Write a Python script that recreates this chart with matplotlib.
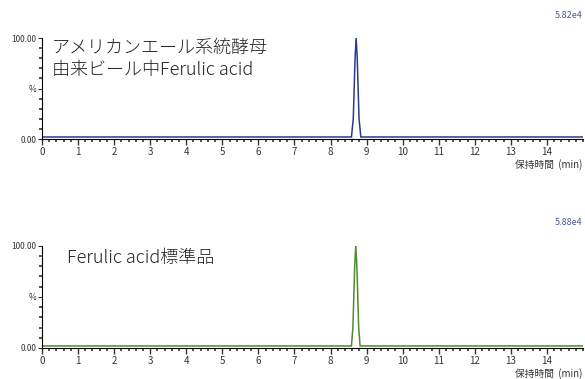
import matplotlib
matplotlib.use('Agg')
import matplotlib.pyplot as plt
from matplotlib.ticker import MultipleLocator, FixedLocator

plt.rcParams['font.family'] = ['Noto Sans CJK JP', 'DejaVu Sans']

# retention time (min) / relative intensity (%)
beer_time = [0.0, 8.58, 8.63, 8.68, 8.71, 8.74, 8.79, 8.84, 15.0]
beer_pct = [2.0, 2.0, 20.0, 80.0, 100.0, 80.0, 20.0, 2.0, 2.0]
std_time = [0.0, 8.58, 8.62, 8.67, 8.70, 8.73, 8.78, 8.82, 15.0]
std_pct = [2.0, 2.0, 20.0, 80.0, 100.0, 80.0, 20.0, 2.0, 2.0]

titles = ['アメリカンエール系統酵母\n由来ビール中Ferulic acid', 'Ferulic acid標準品']
scales = ['5.82e4', '5.88e4']
line_colors = ['#2b3a8c', '#4f8a2e']
x_label = '保持時間  (min)'
y_ticks = [0, 50, 100]
y_ticklabels = ['0.00', '%', '100.00']

fig = plt.figure(figsize=(5.85, 3.79), dpi=100)
ax1 = fig.add_axes([0.0718, 0.6332, 0.9248, 0.2665])
ax2 = fig.add_axes([0.0718, 0.0818, 0.9248, 0.2699])

series = [(beer_time, beer_pct), (std_time, std_pct)]
for i, ax in enumerate([ax1, ax2]):
    t, y = series[i]
    ax.plot(t, y, color=line_colors[i], lw=1.1, solid_joinstyle='miter')
    ax.set_xlim(0, 15)
    ax.set_ylim(0, 100)
    for s in ['top', 'right']:
        ax.spines[s].set_visible(False)
    ax.spines['left'].set_linewidth(0.8)
    ax.spines['bottom'].set_linewidth(0.8)
    ax.xaxis.set_major_locator(MultipleLocator(1))
    ax.xaxis.set_minor_locator(MultipleLocator(0.2))
    ax.yaxis.set_major_locator(FixedLocator(y_ticks))
    ax.set_yticklabels(y_ticklabels)
    ax.yaxis.set_minor_locator(MultipleLocator(10))
    ax.set_xticks(range(0, 15))
    ax.tick_params(axis='x', which='major', length=4, width=1.0, pad=1.5, labelsize=7, colors='#333333')
    ax.tick_params(axis='x', which='minor', length=2.5, width=1.2, color='#333333')
    ax.tick_params(axis='y', which='major', length=3, width=0.8, pad=1, labelsize=6, colors='#333333')
    ax.tick_params(axis='y', which='minor', length=2.5, width=1.2, color='#333333')
    ax.annotate(x_label, xy=(0.999, 0), xycoords='axes fraction', xytext=(0, -18.5),
                textcoords='offset points', ha='right', va='center',
                fontsize=7, color='#333333')
    ax.annotate(scales[i], xy=(0.999, 1), xycoords='axes fraction', xytext=(0, 16.5),
                textcoords='offset points', ha='right', va='center',
                fontsize=6.5, color='#4a5a9a')

ax1.text(0.0185, 0.99, titles[0], transform=ax1.transAxes, ha='left', va='top',
         fontsize=13, color='#222222', linespacing=1.3, fontweight='light')
ax2.text(0.046, 0.88, titles[1], transform=ax2.transAxes, ha='left', va='center',
         fontsize=13, color='#222222', fontweight='light')

fig.savefig('out.png', dpi=100)
